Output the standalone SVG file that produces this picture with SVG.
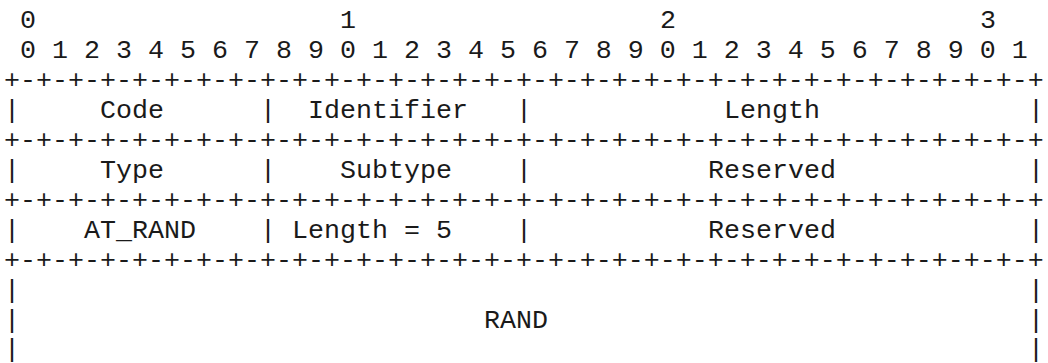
<svg xmlns="http://www.w3.org/2000/svg" width="1048" height="363" viewBox="0 0 1048 363">
<style>
text{font-family:"Courier New","Nimbus Mono PS","FreeMono","Liberation Mono",monospace;font-size:26.667px;fill:#1a1a1a}
</style>
<rect width="1048" height="363" fill="#fff"/>
<g id="ruler">
<text x="20" y="28">0</text><text x="340" y="28">1</text><text x="660" y="28">2</text><text x="980" y="28">3</text>
<text x="20" y="58" xml:space="preserve">0 1 2 3 4 5 6 7 8 9 0 1 2 3 4 5 6 7 8 9 0 1 2 3 4 5 6 7 8 9 0 1</text>
</g>
<g id="connectors">
<text x="4" y="88">+-+-+-+-+-+-+-+-+-+-+-+-+-+-+-+-+-+-+-+-+-+-+-+-+-+-+-+-+-+-+-+-+</text>
<text x="4" y="148">+-+-+-+-+-+-+-+-+-+-+-+-+-+-+-+-+-+-+-+-+-+-+-+-+-+-+-+-+-+-+-+-+</text>
<text x="4" y="208">+-+-+-+-+-+-+-+-+-+-+-+-+-+-+-+-+-+-+-+-+-+-+-+-+-+-+-+-+-+-+-+-+</text>
<text x="4" y="268">+-+-+-+-+-+-+-+-+-+-+-+-+-+-+-+-+-+-+-+-+-+-+-+-+-+-+-+-+-+-+-+-+</text>
<text x="4" y="118">|</text><text x="260" y="118">|</text><text x="516" y="118">|</text><text x="1028" y="118">|</text>
<text x="4" y="178">|</text><text x="260" y="178">|</text><text x="516" y="178">|</text><text x="1028" y="178">|</text>
<text x="4" y="238">|</text><text x="260" y="238">|</text><text x="516" y="238">|</text><text x="1028" y="238">|</text>
<text x="4" y="298">|</text><text x="1028" y="298">|</text>
<text x="4" y="328">|</text><text x="1028" y="328">|</text>
<text x="4" y="357">|</text><text x="1028" y="357">|</text>
</g>
<g id="code"><text x="100" y="118">Code</text></g>
<g id="identifier"><text x="308" y="118">Identifier</text></g>
<g id="length"><text x="724" y="118">Length</text></g>
<g id="type"><text x="100" y="178">Type</text></g>
<g id="subtype"><text x="340" y="178">Subtype</text></g>
<g id="reserved1"><text x="708" y="178">Reserved</text></g>
<g id="at_rand"><text x="84" y="238">AT_RAND</text></g>
<g id="attr_length"><text x="292" y="238" xml:space="preserve">Length = 5</text></g>
<g id="reserved2"><text x="708" y="238">Reserved</text></g>
<g id="rand"><text x="484" y="328">RAND</text></g>
</svg>
